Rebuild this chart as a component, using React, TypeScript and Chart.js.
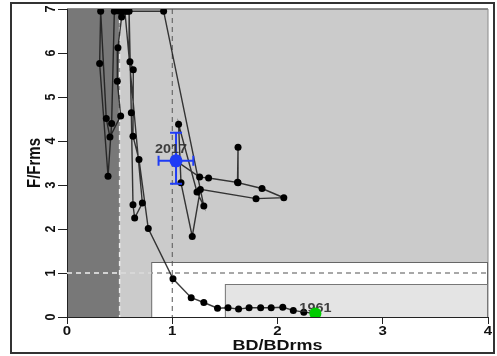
import React, { useEffect, useRef } from "react";
import { Chart, registerables } from "chart.js";
Chart.register(...registerables);

// Trajectory (first = 1961, last = 2017)
const bdRatio = [
  2.36, 2.25, 2.15, 2.05, 1.94, 1.84, 1.73, 1.63, 1.53, 1.43, 1.3, 1.18, 1.007,
  0.772, 0.684, 0.627, 0.63, 0.598, 0.59, 0.611, 0.627, 0.643, 0.716,
  0.55, 0.519, 0.484, 0.478, 0.51, 0.408, 0.373, 0.32, 0.31, 0.39, 0.424,
  0.45, 0.5, 0.53, 0.57, 0.918,
  1.3, 1.235, 1.06, 1.083, 1.19, 1.267, 1.796, 2.06, 1.853, 1.625, 1.625, 1.62,
  1.345, 1.26, 1.036,
];
const fRatio = [
  0.08, 0.11, 0.15, 0.22, 0.21, 0.21, 0.21, 0.18, 0.21, 0.2, 0.33, 0.44, 0.87,
  2.01, 3.58, 4.11, 5.62, 5.8, 6.95, 4.64, 2.55, 2.25, 2.59,
  6.95, 6.82, 6.12, 5.36, 4.57, 4.09, 4.51, 6.95, 5.76, 3.2, 4.4,
  6.95, 6.95, 6.95, 6.95, 6.95,
  2.52, 2.84, 4.38, 3.05, 1.83, 2.9, 2.69, 2.71, 2.92, 3.05, 3.86, 3.06,
  3.16, 3.18, 3.55,
];
const startLabel = "1961";
const endLabel = "2017";
const endBdRange = [0.87, 1.2];
const endFRange = [3.03, 4.19];

const xTicks = [0, 1, 2, 3, 4];
const yTicks = [0, 1, 2, 3, 4, 5, 6, 7];
const xTitle = "BD/BDrms";
const yTitle = "F/Frms";

// Zone limits (data units)
const xMax = 4;
const yMax = 7;
const darkZoneBdMax = 0.5;
const whiteZoneBdMin = 0.8;
const whiteZoneFMax = 1.25;
const innerZoneBdMin = 1.5;
const innerZoneFMax = 0.75;
const refBdLines = [0.5, 1];
const refFLine = 1;

const SX = 1.2;
const FONT = "'Liberation Sans', Arial, sans-serif";

function sText(ctx: CanvasRenderingContext2D, text: string, x: number, y: number, size: number, color: string, rot = 0) {
  ctx.save();
  ctx.translate(x, y);
  ctx.scale(SX, 1);
  ctx.rotate(rot);
  ctx.font = `bold ${size}px ${FONT}`;
  ctx.fillStyle = color;
  ctx.textAlign = "center";
  ctx.textBaseline = "middle";
  ctx.fillText(text, 0, 0);
  ctx.restore();
}

const zonePlugin = {
  id: "zones",
  beforeDraw(chart: any) {
    const ctx = chart.ctx as CanvasRenderingContext2D;
    const xs = chart.scales.x;
    const ys = chart.scales.y;
    const X = (v: number) => xs.getPixelForValue(v);
    const Y = (v: number) => ys.getPixelForValue(v);
    ctx.save();
    ctx.fillStyle = "#cbcbcb";
    ctx.fillRect(X(0), Y(yMax), X(xMax) - X(0), Y(0) - Y(yMax));
    ctx.strokeStyle = "#6a6a6a";
    ctx.lineWidth = 1.5;
    ctx.beginPath();
    ctx.moveTo(X(0), Y(yMax));
    ctx.lineTo(X(xMax), Y(yMax));
    ctx.stroke();
    ctx.strokeStyle = "#8a8a8a";
    ctx.lineWidth = 1;
    ctx.beginPath();
    ctx.moveTo(X(xMax), Y(yMax));
    ctx.lineTo(X(xMax), Y(0));
    ctx.stroke();
    ctx.fillStyle = "#787878";
    ctx.fillRect(X(0), Y(yMax), X(darkZoneBdMax) - X(0), Y(0) - Y(yMax));
    ctx.fillStyle = "#ffffff";
    ctx.fillRect(X(whiteZoneBdMin), Y(whiteZoneFMax), X(xMax) - X(whiteZoneBdMin), Y(0) - Y(whiteZoneFMax));
    ctx.strokeStyle = "#666";
    ctx.lineWidth = 1;
    ctx.strokeRect(X(whiteZoneBdMin) + 0.5, Y(whiteZoneFMax) + 0.5, X(xMax) - X(whiteZoneBdMin) - 1, Y(0) - Y(whiteZoneFMax));
    ctx.fillStyle = "#e4e4e4";
    ctx.fillRect(X(innerZoneBdMin), Y(innerZoneFMax), X(xMax) - X(innerZoneBdMin), Y(0) - Y(innerZoneFMax));
    ctx.strokeStyle = "#777";
    ctx.strokeRect(X(innerZoneBdMin) + 0.5, Y(innerZoneFMax) + 0.5, X(xMax) - X(innerZoneBdMin) - 1, Y(0) - Y(innerZoneFMax));
    ctx.restore();
  },
  beforeDatasetsDraw(chart: any) {
    const ctx = chart.ctx as CanvasRenderingContext2D;
    const xs = chart.scales.x;
    const ys = chart.scales.y;
    const X = (v: number) => xs.getPixelForValue(v);
    const Y = (v: number) => ys.getPixelForValue(v);
    ctx.save();
    ctx.setLineDash([5, 4]);
    ctx.lineWidth = 1.3;
    ctx.strokeStyle = "#8c8c8c";
    ctx.beginPath();
    ctx.moveTo(X(0), Y(refFLine));
    ctx.lineTo(X(xMax), Y(refFLine));
    ctx.stroke();
    ctx.strokeStyle = "#ececec";
    ctx.beginPath();
    ctx.moveTo(X(0), Y(refFLine));
    ctx.lineTo(X(whiteZoneBdMin), Y(refFLine));
    ctx.stroke();
    ctx.strokeStyle = "#eeeeee";
    ctx.lineWidth = 1.5;
    ctx.beginPath();
    ctx.moveTo(X(refBdLines[0]), Y(yMax));
    ctx.lineTo(X(refBdLines[0]), Y(0));
    ctx.stroke();
    ctx.strokeStyle = "#555";
    ctx.lineWidth = 1;
    ctx.beginPath();
    ctx.moveTo(X(refBdLines[1]), Y(yMax));
    ctx.lineTo(X(refBdLines[1]), Y(0));
    ctx.stroke();
    ctx.restore();
  },
  afterDatasetDraw(chart: any, args: any) {
    if (args.index !== 0) return;
    const ctx = chart.ctx as CanvasRenderingContext2D;
    const xs = chart.scales.x;
    const ys = chart.scales.y;
    const X = (v: number) => xs.getPixelForValue(v);
    const Y = (v: number) => ys.getPixelForValue(v);
    const n = bdRatio.length;
    const ex = X(bdRatio[n - 1]);
    const ey = Y(fRatio[n - 1]);
    ctx.save();
    ctx.strokeStyle = "#1f3cf5";
    ctx.lineWidth = 2;
    ctx.beginPath();
    ctx.moveTo(X(endBdRange[0]), ey);
    ctx.lineTo(X(endBdRange[1]), ey);
    ctx.moveTo(X(endBdRange[0]), ey - 5);
    ctx.lineTo(X(endBdRange[0]), ey + 5);
    ctx.moveTo(X(endBdRange[1]), ey - 5);
    ctx.lineTo(X(endBdRange[1]), ey + 5);
    ctx.moveTo(ex, Y(endFRange[0]));
    ctx.lineTo(ex, Y(endFRange[1]));
    ctx.moveTo(ex - 6, Y(endFRange[0]));
    ctx.lineTo(ex + 6, Y(endFRange[0]));
    ctx.moveTo(ex - 6, Y(endFRange[1]));
    ctx.lineTo(ex + 6, Y(endFRange[1]));
    ctx.stroke();
    ctx.restore();
    sText(ctx, endLabel, ex - 5, ey - 11, 12, "rgba(45,45,45,0.9)");
    sText(ctx, startLabel, X(bdRatio[0]), Y(fRatio[0]) - 5, 12, "rgba(45,45,45,0.9)");
  },
  afterDraw(chart: any) {
    const ctx = chart.ctx as CanvasRenderingContext2D;
    const xs = chart.scales.x;
    const ys = chart.scales.y;
    const bottom = chart.chartArea.bottom;
    const left = chart.chartArea.left;
    xTicks.forEach((v) => sText(ctx, String(v), xs.getPixelForValue(v), bottom + 15, 12.5, "#111"));
    yTicks.forEach((v) => sText(ctx, String(v), left - 16, ys.getPixelForValue(v), 12.5, "#111", -Math.PI / 2));
    sText(ctx, xTitle, (chart.chartArea.left + chart.chartArea.right) / 2, bottom + 29, 15, "#111");
    sText(ctx, yTitle, left - 32, (chart.chartArea.top + bottom) / 2, 15, "#111", -Math.PI / 2);
  },
};

export default function App() {
  const ref = useRef<HTMLCanvasElement | null>(null);
  useEffect(() => {
    if (!ref.current) return;
    const n = bdRatio.length;
    const traj = bdRatio.map((x, i) => ({ x, y: fRatio[i] }));
    const chart = new Chart(ref.current, {
      type: "scatter",
      data: {
        datasets: [
          {
            data: traj,
            showLine: true,
            borderColor: "rgba(25,25,25,0.85)",
            borderWidth: 1.4,
            pointRadius: 3.5,
            pointBackgroundColor: "#000",
            pointBorderWidth: 0,
            clip: 0,
            order: 3,
          } as any,
          {
            data: [{ x: bdRatio[n - 1], y: fRatio[n - 1] }],
            pointRadius: 6.5,
            pointBackgroundColor: "#1f3cf5",
            pointBorderWidth: 0,
            clip: 0,
            order: 1,
          } as any,
          {
            data: [{ x: bdRatio[0], y: fRatio[0] }],
            pointRadius: 6,
            pointBackgroundColor: "#00cc00",
            pointBorderWidth: 0,
            clip: 0,
            order: 2,
          } as any,
        ],
      },
      options: {
        responsive: false,
        animation: false,
        events: [],
        layout: { padding: { left: 0, top: 9, right: 9, bottom: 0 } },
        plugins: { legend: { display: false }, tooltip: { enabled: false } },
        scales: {
          x: {
            type: "linear",
            min: 0,
            max: xMax,
            afterFit: (s: any) => {
              s.height = 39;
            },
            ticks: { display: false, stepSize: 1 },
            grid: { display: true, drawOnChartArea: false, drawTicks: true, tickLength: 7, color: "#222", lineWidth: 1 },
            border: { display: true, color: "#222", width: 1 },
          },
          y: {
            type: "linear",
            min: 0,
            max: yMax,
            afterFit: (s: any) => {
              s.width = 67;
            },
            ticks: { display: false, stepSize: 1 },
            grid: { display: true, drawOnChartArea: false, drawTicks: true, tickLength: 9, color: "#222", lineWidth: 1 },
            border: { display: true, color: "#222", width: 1 },
          },
        },
      } as any,
      plugins: [zonePlugin],
    });
    return () => chart.destroy();
  }, []);
  return (
    <div style={{ position: "absolute", left: 0, top: 0, width: 497, height: 356, background: "#fff" }}>
      <canvas ref={ref} width={497} height={356} style={{ display: "block", width: 497, height: 356 }} />
      <div
        style={{
          position: "absolute",
          left: 10,
          top: 2,
          width: 485,
          height: 352,
          border: "2px solid #333",
          boxSizing: "border-box",
          pointerEvents: "none",
        }}
      />
    </div>
  );
}
